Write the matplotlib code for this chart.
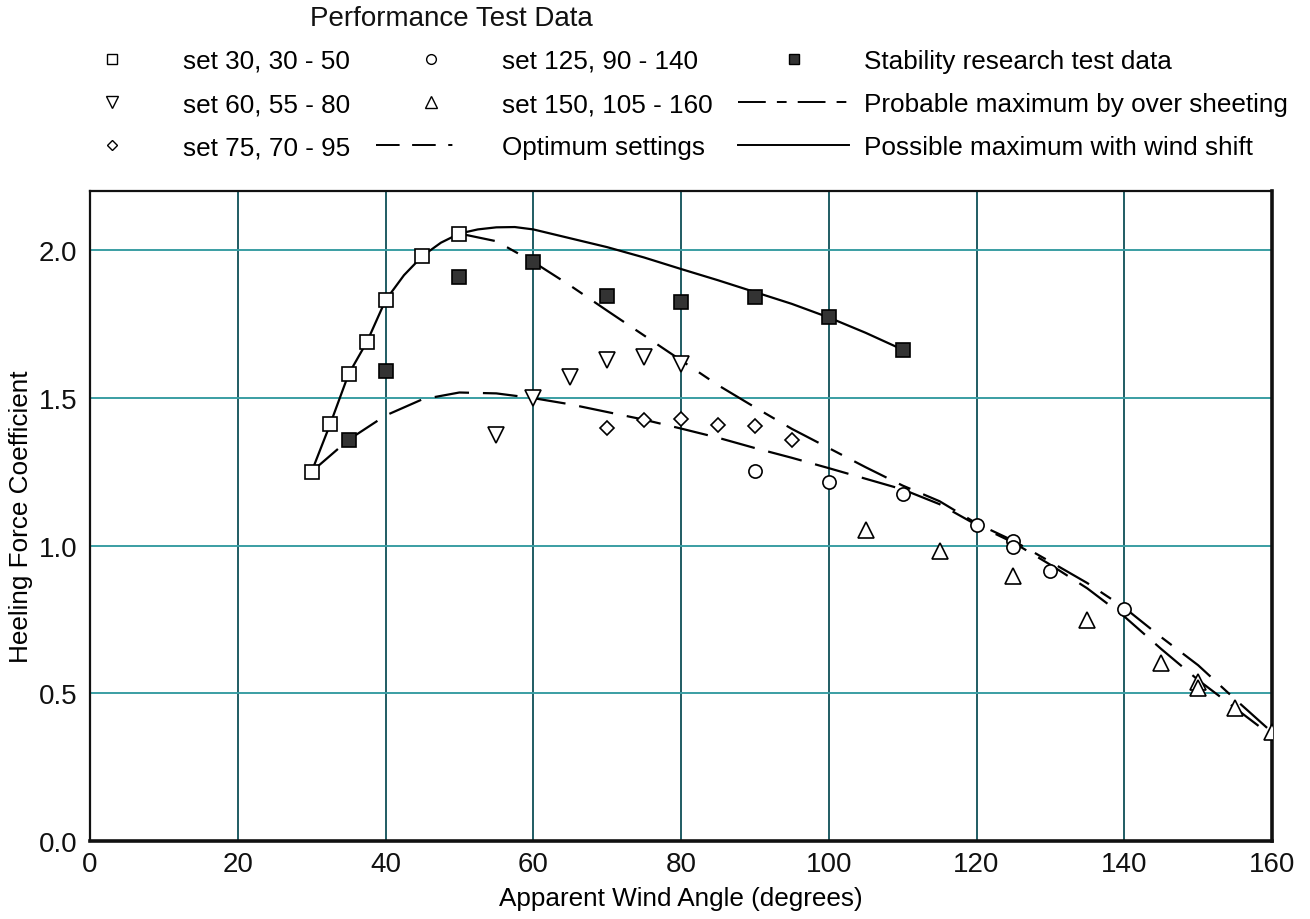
import matplotlib
matplotlib.use("Agg")
import matplotlib.pyplot as plt
from matplotlib.lines import Line2D

plt.rcParams['font.family'] = ['Liberation Sans', 'DejaVu Sans']
plt.rcParams['lines.scale_dashes'] = False

# performance test data, one list per sail setting
set30_x = [30, 32.5, 35, 37.5, 40, 45, 50]
set30_y = [1.25, 1.41, 1.58, 1.69, 1.83, 1.98, 2.056]

set60_x = [55, 60, 65, 70, 75, 80]
set60_y = [1.375, 1.499, 1.569, 1.628, 1.639, 1.614]

set75_x = [70, 75, 80, 85, 90, 95]
set75_y = [1.398, 1.426, 1.43, 1.408, 1.405, 1.357]

set125_x = [90, 100, 110, 120, 125, 125, 130, 140]
set125_y = [1.253, 1.216, 1.174, 1.07, 1.016, 0.996, 0.913, 0.785]

set150_x = [105, 115, 125, 135, 145, 150, 150, 155, 160]
set150_y = [1.053, 0.98, 0.898, 0.747, 0.603, 0.537, 0.517, 0.45, 0.368]

# stability research test data
stab_x = [35, 40, 50, 60, 70, 80, 90, 100, 110]
stab_y = [1.358, 1.59, 1.91, 1.96, 1.843, 1.826, 1.84, 1.772, 1.663]

# faired curves
possible_x = [30, 32.5, 35, 37.5, 40, 42.5, 45, 47.5, 50, 52.5, 55, 57.5, 60,
              65, 70, 75, 80, 85, 90, 95, 100, 105, 110]
possible_y = [1.25, 1.41, 1.58, 1.69, 1.83, 1.915, 1.98, 2.025, 2.056, 2.07,
              2.077, 2.078, 2.07, 2.04, 2.01, 1.975, 1.936, 1.898, 1.858,
              1.818, 1.772, 1.72, 1.663]

probable_x = [50, 55, 60, 65, 70, 75, 80, 85, 90, 95, 100, 105, 110, 115, 120,
              125, 130, 135, 140, 145, 150, 155, 160]
probable_y = [2.056, 2.03, 1.96, 1.88, 1.795, 1.711, 1.627, 1.543, 1.468,
              1.395, 1.33, 1.265, 1.203, 1.15, 1.075, 1.016, 0.945, 0.873,
              0.79, 0.69, 0.595, 0.48, 0.368]

optimum_x = [30, 35, 40, 45, 50, 55, 60, 65, 70, 75, 80, 85, 90, 95, 100, 105,
             110, 115, 120, 125, 130, 135, 140, 145, 150, 155, 160]
optimum_y = [1.25, 1.358, 1.44, 1.495, 1.518, 1.515, 1.499, 1.478, 1.452,
             1.426, 1.396, 1.365, 1.33, 1.297, 1.262, 1.226, 1.19, 1.14, 1.07,
             1.01, 0.935, 0.855, 0.76, 0.65, 0.545, 0.45, 0.355]

fig = plt.figure(figsize=(13.1, 9.2), dpi=100)
ax = fig.add_axes([90 / 1310, 1 - 842 / 920, 1182 / 1310, 650 / 920])

probable_dash = (26, 10, 9, 10)
optimum_dash = (25, 10)

ax.plot(possible_x, possible_y, color='black', lw=1.6, zorder=3)
ax.plot(probable_x, probable_y, color='black', lw=1.6, dashes=probable_dash, zorder=3)
ax.plot(optimum_x, optimum_y, color='black', lw=1.6, dashes=optimum_dash, zorder=3)

mk = dict(ls='none', mfc='white', mec='black', mew=1.2, zorder=4)
ax.plot(set30_x, set30_y, marker='s', ms=10, **mk)
ax.plot(set60_x, set60_y, marker='v', ms=11, **mk)
ax.plot(set75_x, set75_y, marker='D', ms=7.5, **mk)
ax.plot(set125_x, set125_y, marker='o', ms=9.5, **mk)
ax.plot(set150_x, set150_y, marker='^', ms=11, **mk)
ax.plot(stab_x, stab_y, marker='s', ms=10, ls='none', mfc='#333333',
        mec='black', mew=1.2, zorder=4)

ax.set_xlim(0, 160)
ax.set_ylim(0, 2.2)
ax.set_xticks(range(0, 161, 20))
ax.set_yticks([0.0, 0.5, 1.0, 1.5, 2.0])
ax.set_yticklabels(['0.0', '0.5', '1.0', '1.5', '2.0'])
ax.tick_params(length=0, labelsize=20, colors='#111111')
ax.tick_params(axis='x', pad=7)
ax.tick_params(axis='y', pad=9)
ax.xaxis.grid(True, color='#1f5c63', lw=1.4)
ax.yaxis.grid(True, color='#3a9ea3', lw=1.4)
ax.set_axisbelow(True)
for side, w in [('left', 1.6), ('top', 1.6), ('bottom', 2.6), ('right', 2.6)]:
    ax.spines[side].set_linewidth(w)
    ax.spines[side].set_color('#111111')

ax.set_xlabel('Apparent Wind Angle (degrees)', fontsize=18.8, labelpad=7)
ax.set_ylabel('Heeling Force Coefficient', fontsize=18.8, labelpad=4)

# legend across the top, filled column by column
lk = dict(color='black', ls='none', mfc='white', mec='black', mew=1.0)
handles = [
    Line2D([], [], marker='s', ms=7, **lk),
    Line2D([], [], marker='v', ms=8, **lk),
    Line2D([], [], marker='D', ms=5.5, **lk),
    Line2D([], [], marker='o', ms=7, **lk),
    Line2D([], [], marker='^', ms=8, **lk),
    Line2D([], [], color='black', lw=1.4, dashes=(17, 9, 17, 9, 3, 50)),
    Line2D([], [], marker='s', ms=7, ls='none', mfc='#333333', mec='black'),
    Line2D([], [], color='black', lw=1.4, dashes=(20, 8, 7, 8)),
    Line2D([], [], color='black', lw=1.4),
]
labels = ['set 30, 30 - 50', 'set 60, 55 - 80', 'set 75, 70 - 95',
          'set 125, 90 - 140', 'set 150, 105 - 160', 'Optimum settings',
          'Stability research test data', 'Probable maximum by over sheeting',
          'Possible maximum with wind shift']
fig.legend(handles, labels, ncol=3, loc='upper left',
           bbox_to_anchor=(57 / 1310, 1 - 50 / 920), frameon=False,
           fontsize=18.8, handlelength=4.23, handletextpad=0.58,
           columnspacing=1.0, labelspacing=0.73, borderpad=0,
           borderaxespad=0)
fig.text(310 / 1310, 1 - 19 / 920, 'Performance Test Data', fontsize=20,
         ha='left', va='center', color='#111111')

fig.savefig('out.png', dpi=100)
